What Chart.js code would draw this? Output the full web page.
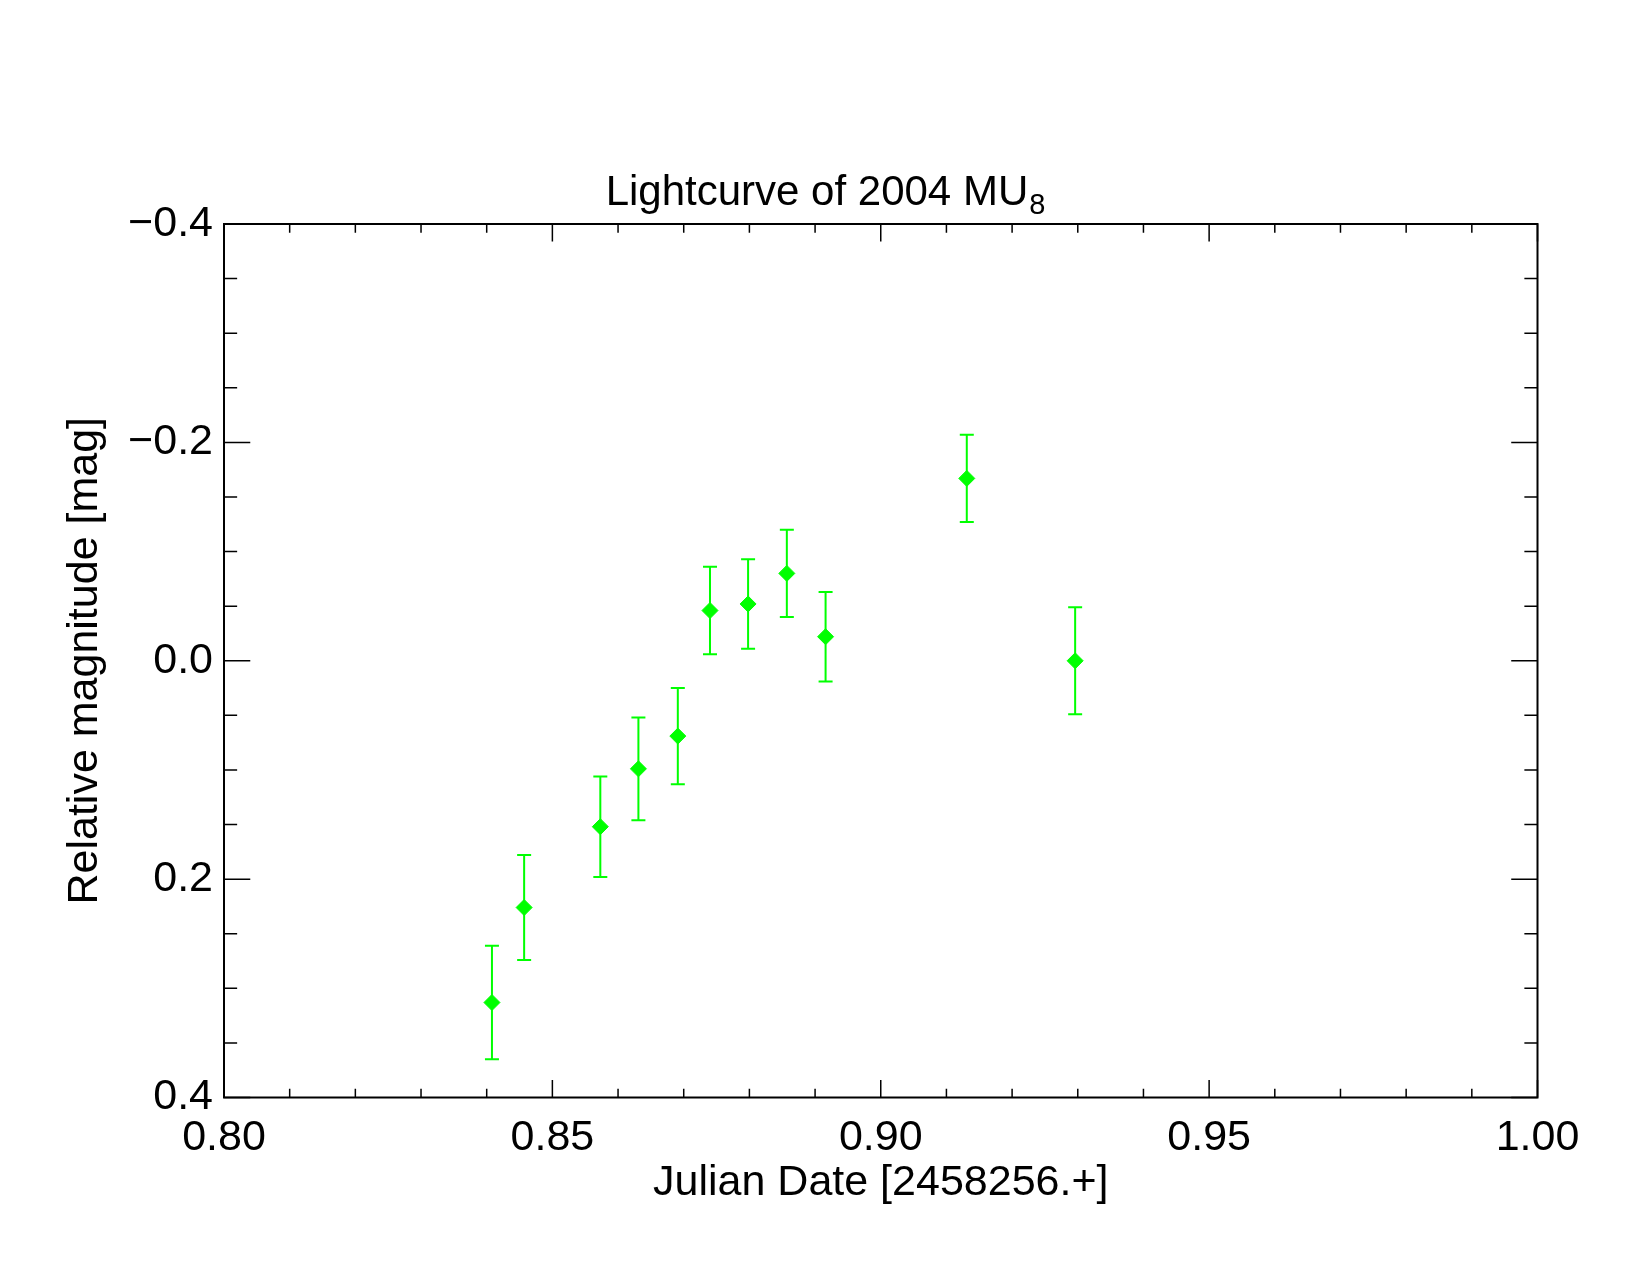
<!DOCTYPE html>
<html>
<head>
<meta charset="utf-8">
<script src="https://cdn.jsdelivr.net/npm/chart.js@4.4.1/dist/chart.umd.min.js"></script>
<style>
  html, body { margin: 0; padding: 0; background: #fff; }
  canvas { display: block; }
</style>
</head>
<body>
<canvas id="lcChart" width="1650" height="1275"></canvas>
<script>
    // lightcurve points: Julian date offset, relative magnitude, 1-sigma error
    const jd  = [0.8408, 0.8457, 0.8573, 0.8631, 0.8691, 0.8740, 0.8798, 0.8857, 0.8916, 0.9131, 0.9296];
    const mag = [0.313, 0.226, 0.152, 0.099, 0.069, -0.046, -0.052, -0.080, -0.022, -0.167, 0.000];
    const err = [0.052, 0.048, 0.046, 0.047, 0.044, 0.040, 0.041, 0.040, 0.041, 0.040, 0.049];

    const xRange = [0.80, 1.00];
    const yRange = [-0.4, 0.4];
    const xMajor = 0.05, xMinor = 0.01;
    const yMajor = 0.2,  yMinor = 0.05;

    const titleMain = 'Lightcurve of 2004 MU';
    const titleSub = '8';
    const xTitle = 'Julian Date [2458256.+]';
    const yTitle = 'Relative magnitude [mag]';

    const green = '#00ff00';
    const fontFam = '"Liberation Sans", Arial, Helvetica, sans-serif';
    Chart.defaults.font.family = fontFam;
    Chart.defaults.color = '#000';

    const isMultiple = (v, step) => Math.abs(v / step - Math.round(v / step)) < 1e-6;
    const fmt = (v, d) => {
        const r = Number(v.toFixed(d));
        const s = Math.abs(r).toFixed(d);
        return r < 0 ? '\u2212' + s : s;
    };

    // error bars with caps, drawn under the diamonds
    const errorBars = {
        id: 'errorBars',
        beforeDatasetsDraw(chart) {
            const {ctx, scales: {x, y}} = chart;
            ctx.save();
            ctx.strokeStyle = green;
            ctx.lineWidth = 2;
            ctx.beginPath();
            jd.forEach((t, i) => {
                const px = x.getPixelForValue(t);
                const lo = y.getPixelForValue(mag[i] - err[i]);
                const hi = y.getPixelForValue(mag[i] + err[i]);
                ctx.moveTo(px, lo); ctx.lineTo(px, hi);
                ctx.moveTo(px - 7, lo); ctx.lineTo(px + 7, lo);
                ctx.moveTo(px - 7, hi); ctx.lineTo(px + 7, hi);
            });
            ctx.stroke();
            ctx.restore();
        }
    };

    // IDL style box with inward ticks on all four sides
    const frameTicks = {
        id: 'frameTicks',
        afterDraw(chart) {
            const {ctx, chartArea: a, scales: {x, y}} = chart;
            const xLen = (a.bottom - a.top) * 0.02;
            const yLen = (a.right - a.left) * 0.02;
            ctx.save();
            ctx.strokeStyle = '#000';
            ctx.lineWidth = 1.5;
            ctx.beginPath();
            x.ticks.forEach(t => {
                const px = x.getPixelForValue(t.value);
                const len = t.label ? xLen : xLen / 2;
                ctx.moveTo(px, a.bottom); ctx.lineTo(px, a.bottom - len);
                ctx.moveTo(px, a.top); ctx.lineTo(px, a.top + len);
            });
            y.ticks.forEach(t => {
                const py = y.getPixelForValue(t.value);
                const len = t.label ? yLen : yLen / 2;
                ctx.moveTo(a.left, py); ctx.lineTo(a.left + len, py);
                ctx.moveTo(a.right, py); ctx.lineTo(a.right - len, py);
            });
            ctx.stroke();
            ctx.lineWidth = 2;
            ctx.strokeRect(a.left, a.top, a.right - a.left, a.bottom - a.top);
            ctx.restore();
        }
    };

    // title with subscripted 8
    const subTitle = {
        id: 'subTitle',
        afterDraw(chart) {
            const ctx = chart.ctx;
            ctx.save();
            ctx.fillStyle = '#000';
            ctx.textBaseline = 'alphabetic';
            ctx.textAlign = 'left';
            ctx.font = '42px ' + fontFam;
            const w1 = ctx.measureText(titleMain).width;
            ctx.font = '29px ' + fontFam;
            const w2 = ctx.measureText(titleSub).width;
            const x0 = chart.width / 2 - (w1 + w2) / 2;
            const base = chart.chartArea.top - 19;
            ctx.font = '42px ' + fontFam;
            ctx.fillText(titleMain, x0, base);
            ctx.font = '29px ' + fontFam;
            ctx.fillText(titleSub, x0 + w1 + 1, base + 9);
            ctx.restore();
        }
    };

    const ctx = document.getElementById('lcChart').getContext('2d');
    new Chart(ctx, {
        type: 'scatter',
        data: {
            datasets: [{
                data: jd.map((t, i) => ({x: t, y: mag[i]})),
                pointStyle: 'rectRot',
                pointRadius: 8,
                pointBorderWidth: 1,
                backgroundColor: green,
                borderColor: green,
                showLine: false
            }]
        },
        options: {
            responsive: false,
            animation: false,
            events: [],
            layout: {
                autoPadding: false,
                padding: {left: 0, top: 224, right: 112.5, bottom: 0}
            },
            plugins: {
                legend: {display: false},
                tooltip: {enabled: false},
                title: {display: false}
            },
            scales: {
                x: {
                    type: 'linear',
                    min: xRange[0],
                    max: xRange[1],
                    grid: {display: false, drawTicks: false},
                    border: {display: false},
                    ticks: {
                        stepSize: xMinor,
                        autoSkip: false,
                        maxRotation: 0,
                        padding: 15,
                        font: {size: 43},
                        callback: v => isMultiple(v, xMajor) ? fmt(v, 2) : ''
                    },
                    title: {
                        display: true,
                        text: xTitle,
                        font: {size: 43},
                        padding: {top: 0, bottom: 66}
                    },
                    afterFit: s => { s.height = 177.5; }
                },
                y: {
                    type: 'linear',
                    reverse: true,
                    min: yRange[0],
                    max: yRange[1],
                    grid: {display: false, drawTicks: false},
                    border: {display: false},
                    ticks: {
                        stepSize: yMinor,
                        autoSkip: false,
                        padding: 11,
                        font: {size: 43},
                        callback: v => isMultiple(v, yMajor) ? fmt(v, 1) : ''
                    },
                    title: {
                        display: true,
                        text: yTitle,
                        font: {size: 43},
                        padding: {top: 59, bottom: 0}
                    },
                    afterFit: s => { s.width = 224; }
                }
            }
        },
        plugins: [errorBars, frameTicks, subTitle]
    });
</script>
</body>
</html>
